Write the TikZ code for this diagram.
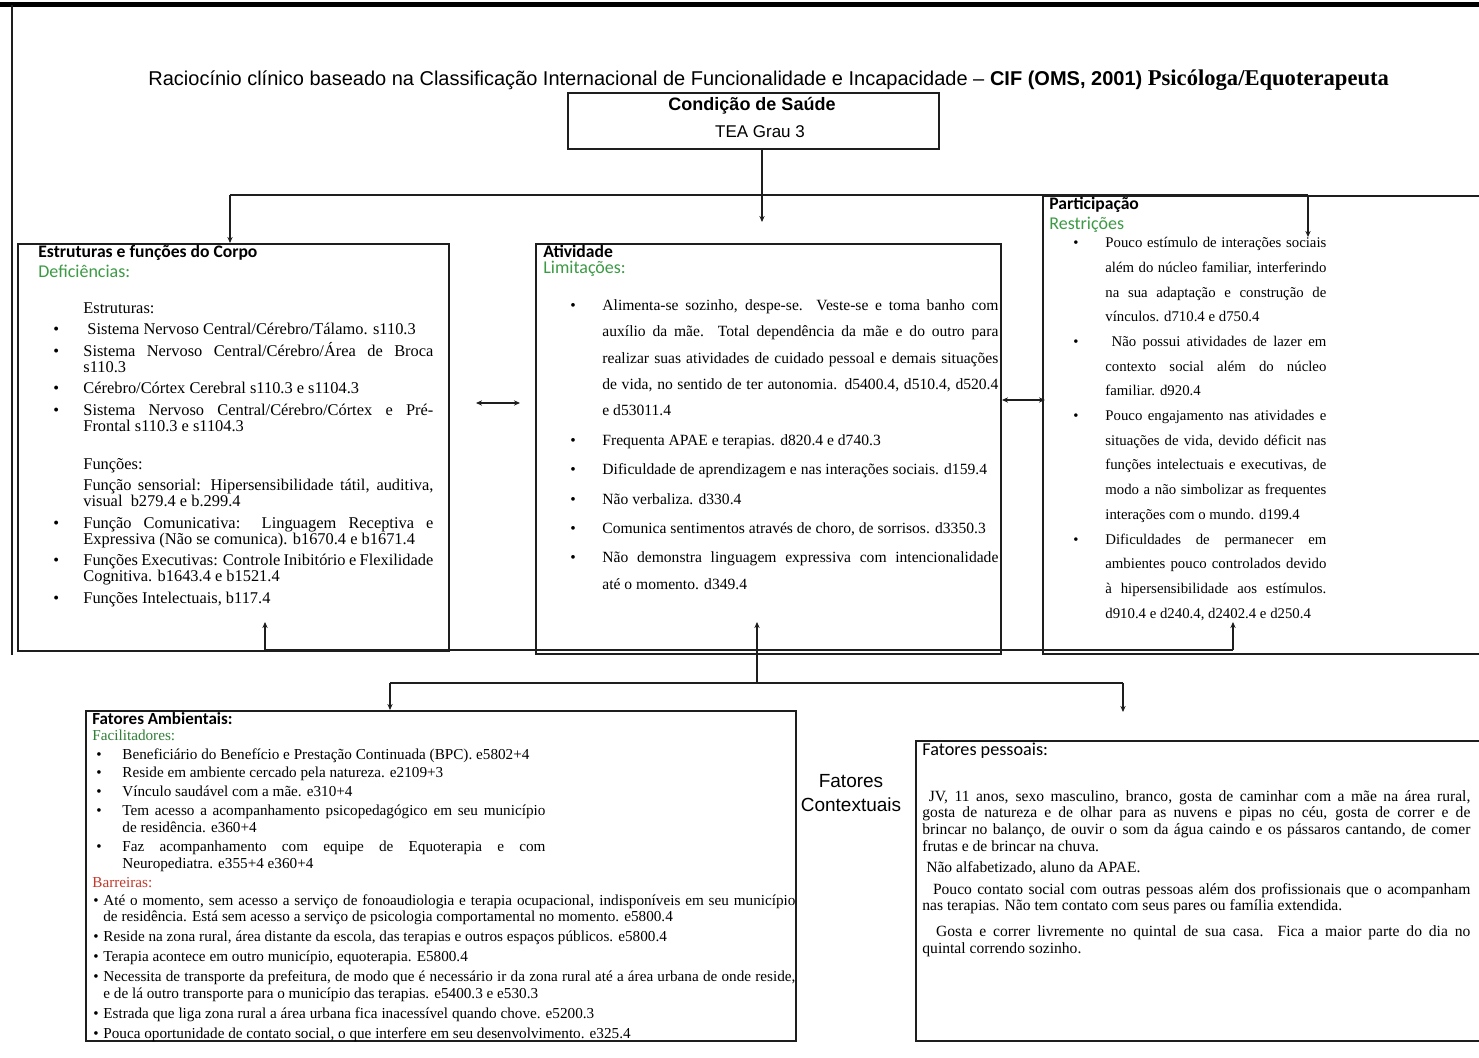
\documentclass[tikz,border=0pt]{standalone}
\usepackage{fontspec}
\setmainfont{Liberation Serif}
\newfontfamily\calibri{Carlito}
\newfontfamily\arial{Liberation Sans}
\usepackage{xcolor}
\usepackage{tikz}
\usetikzlibrary{arrows.meta, positioning, calc}
\definecolor{inkline}{HTML}{1E1E1E}
\definecolor{cifgreen}{HTML}{3C9A45}
\definecolor{facgreen}{HTML}{2F7F36}
\definecolor{barred}{HTML}{C0392B}

\newlength{\bind}
\newcommand{\bulletstart}{\hangindent=\bind\hangafter=1\noindent\makebox[\bind][l]{\textbullet}\ignorespaces}
\newcommand{\itm}{\par\bulletstart}
\newcommand{\substart}{\hangindent=\bind\hangafter=0\noindent\ignorespaces}
\newcommand{\subline}{\par\substart}
\hyphenpenalty=10000
\tolerance=9999
\emergencystretch=10pt

\tikzset{
  icfbox/.style={draw=inkline, line width=0.8pt, anchor=north west, inner sep=0pt},
  conn/.style={draw=inkline, line width=0.7pt},
  arr/.style={conn, -{Stealth[length=3pt,width=2.6pt]}},
  arrtwo/.style={conn, {Stealth[length=3pt,width=2.6pt]}-{Stealth[length=3pt,width=2.6pt]}},
  boxhead/.style={anchor=base west, inner sep=0pt, font=\fontsize{8.8}{10}\selectfont\calibri\bfseries},
  boxsub/.style={anchor=base west, inner sep=0pt, text=cifgreen, font=\fontsize{9}{10}\selectfont\calibri},
  boxtext/.style={anchor=north west, inner sep=0pt, align=justify}
}

\begin{document}
\begin{tikzpicture}[x=0.5pt, y=-0.5pt]
  \fill[white] (0,0) rectangle (1479,1058);
  \useasboundingbox (0,0) rectangle (1479,1058);

  \draw[line width=2.5pt] (0,5) -- (1479,5);
  \draw[inkline, line width=0.8pt] (12,5) -- (12,655);

  \node[anchor=base west, inner sep=0pt, font=\fontsize{10}{12}\selectfont\arial] (title) at (148,86)
    {Raciocínio clínico baseado na Classificação Internacional de Funcionalidade e Incapacidade – \textbf{CIF (OMS, 2001)} {\rmfamily\bfseries\fontsize{11.3}{12}\selectfont Psicóloga/Equoterapeuta}};

  \node[icfbox, minimum width=185.5pt, minimum height=28pt] (cond) at (567,92) {};
  \node[anchor=base, font=\fontsize{9}{10}\selectfont\arial\bfseries] (condt) at (752,111) {Condição de Saúde};
  \node[anchor=base, font=\fontsize{8.5}{10}\selectfont\arial] (tea) at (760,138) {TEA Grau 3};

  \node[icfbox, minimum width=215.5pt, minimum height=203.5pt] (estr) at (17,243) {};
  \node[boxhead] (estrh) at (38,258) {Estruturas e funções do Corpo};
  \node[boxsub] (estrs) at (38,278) {Deficiências:};
  \node[boxtext, text width=190pt, font=\fontsize{8.2}{8}\selectfont] (estrl) at (53,302)
    {\setlength{\bind}{15pt}\setlength{\parskip}{2.8pt}%
     \substart Estruturas:
     \itm\ Sistema Nervoso Central/Cérebro/Tálamo. s110.3
     \itm Sistema Nervoso Central/Cérebro/Área de Broca\linebreak s110.3
     \itm Cérebro/Córtex Cerebral s110.3 e s1104.3
     \itm Sistema Nervoso Central/Cérebro/Córtex e Pré-\linebreak Frontal s110.3 e s1104.3
     \par\vspace{8pt}
     \subline Funções:
     \subline Função sensorial: Hipersensibilidade tátil, auditiva,\linebreak visual~ b279.4 e b.299.4
     \itm Função Comunicativa: Linguagem Receptiva e\linebreak Expressiva (Não se comunica). b1670.4 e b1671.4
     \itm Funções Executivas: Controle Inibitório e Flexilidade\linebreak Cognitiva. b1643.4 e b1521.4
     \itm Funções Intelectuais, b117.4\par};

  \node[icfbox, minimum width=232.5pt, minimum height=205pt] (ativ) at (535,243) {};
  \node[boxhead] (ativh) at (543,258) {Atividade};
  \node[boxsub] (ativs) at (543,274) {Limitações:};
  \node[boxtext, text width=214pt, font=\fontsize{7.8}{13.2}\selectfont] (ativl) at (570,299)
    {\setlength{\bind}{16pt}\setlength{\parskip}{1.5pt}%
     \bulletstart Alimenta-se sozinho, despe-se. Veste-se e toma banho com\linebreak auxílio da mãe. Total dependência da mãe e do outro para\linebreak realizar suas atividades de cuidado pessoal e demais situações\linebreak de vida, no sentido de ter autonomia. d5400.4, d510.4, d520.4\linebreak e d53011.4
     \itm Frequenta APAE e terapias. d820.4 e d740.3
     \itm Dificuldade de aprendizagem e nas interações sociais. d159.4
     \itm Não verbaliza. d330.4
     \itm Comunica sentimentos através de choro, de sorrisos. d3350.3
     \itm Não demonstra linguagem expressiva com intencionalidade\linebreak até o momento. d349.4\par};

  \node[icfbox, minimum width=225pt, minimum height=229pt] (part) at (1042,195) {};
  \node[boxhead] (parth) at (1049,210) {Participação};
  \node[boxsub] (parts) at (1049,230) {Restrições};
  \node[boxtext, text width=126.5pt, font=\fontsize{7.4}{12.35}\selectfont] (partl) at (1073,237)
    {\setlength{\bind}{16pt}%
     \bulletstart Pouco estímulo de interações sociais\linebreak além do núcleo familiar, interferindo\linebreak na sua adaptação e construção de\linebreak vínculos. d710.4 e d750.4
     \itm\ Não possui atividades de lazer em\linebreak contexto social além do núcleo\linebreak familiar. d920.4
     \itm Pouco engajamento nas atividades e\linebreak situações de vida, devido déficit nas\linebreak funções intelectuais e executivas, de\linebreak modo a não simbolizar as frequentes\linebreak interações com o mundo. d199.4
     \itm Dificuldades de permanecer em\linebreak ambientes pouco controlados devido\linebreak à hipersensibilidade aos estímulos.\linebreak d910.4 e d240.4, d2402.4 e d250.4\par};

  \node[icfbox, minimum width=355pt, minimum height=165pt] (amb) at (85,710) {};
  \node[boxhead, font=\fontsize{8.5}{10}\selectfont\calibri\bfseries] (ambh) at (92,725) {Fatores Ambientais:};
  \node[anchor=base west, inner sep=0pt, text=facgreen, font=\fontsize{7.6}{9}\selectfont] (ambf) at (92,741) {Facilitadores:};
  \node[boxtext, text width=224.5pt, font=\fontsize{7.6}{8.5}\selectfont] (ambfl) at (96,748)
    {\setlength{\bind}{13pt}\setlength{\parskip}{0.9pt}%
     \bulletstart Beneficiário do Benefício e Prestação Continuada (BPC). e5802+4
     \itm Reside em ambiente cercado pela natureza. e2109+3
     \itm Vínculo saudável com a mãe. e310+4
     \itm Tem acesso a acompanhamento psicopedagógico em seu município\linebreak de residência. e360+4
     \itm Faz acompanhamento com equipe de Equoterapia e com\linebreak Neuropediatra. e355+4 e360+4\par};
  \node[anchor=base west, inner sep=0pt, text=barred, font=\fontsize{7.6}{9}\selectfont] (ambb) at (92,887) {Barreiras:};
  \node[boxtext, text width=351pt, font=\fontsize{7.6}{8.3}\selectfont] (ambbl) at (93,894)
    {\setlength{\bind}{5pt}\setlength{\parskip}{1.7pt}%
     \bulletstart Até o momento, sem acesso a serviço de fonoaudiologia e terapia ocupacional, indisponíveis em seu município\linebreak de residência. Está sem acesso a serviço de psicologia comportamental no momento. e5800.4
     \itm Reside na zona rural, área distante da escola, das terapias e outros espaços públicos. e5800.4
     \itm Terapia acontece em outro município, equoterapia. E5800.4
     \itm Necessita de transporte da prefeitura, de modo que é necessário ir da zona rural até a área urbana de onde reside,\linebreak e de lá outro transporte para o município das terapias. e5400.3 e e530.3
     \itm Estrada que liga zona rural a área urbana fica inacessível quando chove. e5200.3
     \itm Pouca oportunidade de contato social, o que interfere em seu desenvolvimento. e325.4\par};

  \node[align=center, font=\fontsize{9.5}{12}\selectfont\arial] (ctx) at (851,793) {Fatores\\Contextuais};

  \node[icfbox, minimum width=290pt, minimum height=150pt] (pess) at (915,740) {};
  \node[anchor=base west, inner sep=0pt, font=\fontsize{9.1}{10}\selectfont\calibri] (pessh) at (922,756) {Fatores pessoais:};
  \node[boxtext, text width=274pt, font=\fontsize{7.8}{8.3}\selectfont] (pessl) at (922,790)
    {\setlength{\parskip}{2.5pt}%
     \noindent\ JV, 11 anos, sexo masculino, branco, gosta de caminhar com a mãe na área rural,\linebreak gosta de natureza e de olhar para as nuvens e pipas no céu, gosta de correr e de\linebreak brincar no balanço, de ouvir o som da água caindo e os pássaros cantando, de comer\linebreak frutas e de brincar na chuva.
     \par\noindent\ Não alfabetizado, aluno da APAE.
     \par\noindent\ \ Pouco contato social com outras pessoas além dos profissionais que o acompanham\linebreak nas terapias. Não tem contato com seus pares ou família extendida.
     \par\vspace{2pt}\noindent\ \ Gosta e correr livremente no quintal de sua casa. Fica a maior parte do dia no\linebreak quintal correndo sozinho.\par};

  \coordinate (tjl) at (230,195);
  \coordinate (tjr) at (1308,195);
  \coordinate (tc) at (762,222);
  \coordinate (tr) at (1308,237);
  \draw[arr] (cond.south -| tc) -- (tc);
  \draw[conn] (tjl) -- (tjr);
  \draw[arr] (tjl) -- (tjl |- estr.north);
  \draw[arr] (tjr) -- (tr);

  \coordinate (la) at (476,403);
  \coordinate (lb) at (520,403);
  \coordinate (ra) at (1002,400);
  \coordinate (rb) at (1045,400);
  \draw[arrtwo] (la) -- (lb);
  \draw[arrtwo] (ra) -- (rb);

  \coordinate (bl) at (265,650);
  \coordinate (bc) at (757,650);
  \coordinate (br) at (1233,650);
  \coordinate (ul) at (265,622);
  \coordinate (uc) at (757,622);
  \coordinate (ur) at (1233,622);
  \coordinate (hl) at (390,683);
  \coordinate (hc) at (757,683);
  \coordinate (hr) at (1123,683);
  \coordinate (dr) at (1123,712);
  \draw[conn] (bl) -- (br);
  \draw[arr] (bl) -- (ul);
  \draw[arr] (hc) -- (uc);
  \draw[arr] (br) -- (ur);
  \draw[conn] (hl) -- (hr);
  \draw[arr] (hl) -- (hl |- amb.north);
  \draw[arr] (hr) -- (dr);
\end{tikzpicture}
\end{document}
